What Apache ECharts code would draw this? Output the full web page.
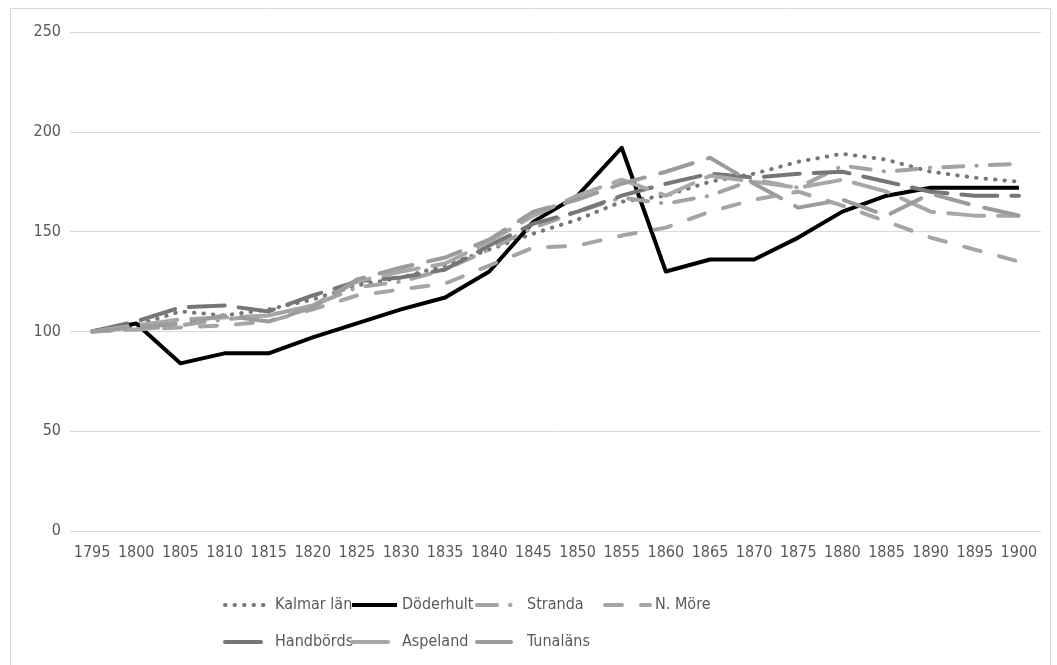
<!DOCTYPE html>
<html>
<head>
<meta charset="utf-8">
<script src="https://cdn.jsdelivr.net/npm/echarts@6/dist/echarts.min.js"></script>
<style>
html,body{margin:0;padding:0;background:#fff;}
#chart{width:1057px;height:665px;}
</style>
</head>
<body>
<div id="chart"></div>
<script>
const years = ['1795','1800','1805','1810','1815','1820','1825','1830','1835','1840','1845','1850','1855','1860','1865','1870','1875','1880','1885','1890','1895','1900'];
const yTicks = [0, 50, 100, 150, 200, 250];

const kalmarLan = [100,103,110,108,111,116,123,127,133,141,149,156,165,168,175,179,185,189,186,180,177,175];
const doderhult = [100,104,84,89,89,97,104,111,117,130,155,168,192,130,136,136,147,160,168,172,172,172];
const stranda   = [100,101,103,106,108,113,122,125,131,141,152,160,167,164,168,176,172,183,180,182,183,184];
const nMore     = [100,101,102,103,105,111,118,121,124,133,142,143,148,152,160,166,170,163,155,147,141,135];
const handbords = [100,105,112,113,110,118,125,127,131,143,154,160,168,174,179,177,179,180,175,170,168,168];
const aspeland  = [100,103,106,107,108,113,125,130,134,145,158,168,176,168,178,175,172,176,170,160,158,158];
const tunalans  = [100,102,104,108,105,112,126,132,137,146,160,166,174,180,187,174,162,166,158,169,163,158];

const FONT = "'Liberation Sans Narrow', 'DejaVu Sans Condensed', 'Liberation Sans', sans-serif";
const TXT = '#595959';

const seriesDefs = [
  {name:'Kalmar län', data:kalmarLan, color:'#767676', width:4, type:[0.5,9], cap:'round'},
  {name:'Döderhult', data:doderhult, color:'#000000', width:4, type:'solid', cap:'butt'},
  {name:'Stranda', data:stranda, color:'#a3a3a3', width:4, type:[20,13,0.5,13], cap:'round'},
  {name:'N. Möre', data:nMore, color:'#a5a5a5', width:4, type:[17,19], cap:'round'},
  {name:'Handbörds', data:handbords, color:'#767676', width:4, type:[36,14], cap:'round'},
  {name:'Aspeland', data:aspeland, color:'#a8a8a8', width:4, type:[36,14], cap:'round'},
  {name:'Tunaläns', data:tunalans, color:'#9c9c9c', width:4, type:[34,16], cap:'round'}
];

const legendPos = [
  {left:218, top:592}, {left:345, top:592}, {left:470, top:592}, {left:598, top:592},
  {left:218, top:629}, {left:345, top:629}, {left:470, top:629}
];

const chart = echarts.init(document.getElementById('chart'), null, {renderer:'canvas'});
chart.setOption({
  animation:false,
  backgroundColor:'#ffffff',
  graphic:[{type:'rect', shape:{x:10.5,y:8.5,width:1040,height:660}, style:{fill:'none', stroke:'#d9d9d9', lineWidth:1}, silent:true}],
  grid:{left:70, right:16, top:32, bottom:134, containLabel:false},
  xAxis:{
    type:'category', data:years, boundaryGap:true,
    axisLine:{lineStyle:{color:'#d9d9d9', width:1}},
    axisTick:{show:false},
    axisLabel:{color:TXT, fontFamily:FONT, fontSize:16, margin:14, interval:0}
  },
  yAxis:{
    type:'value', min:0, max:250, interval:50,
    axisLine:{show:false}, axisTick:{show:false},
    splitLine:{lineStyle:{color:'#d9d9d9', width:1}},
    axisLabel:{color:TXT, fontFamily:FONT, fontSize:16, margin:9,
      formatter:function(v){return yTicks.indexOf(v)>=0 ? String(v) : '';}}
  },
  legend: seriesDefs.map((s,i)=>({
    data:[s.name], left:legendPos[i].left, top:legendPos[i].top,
    itemWidth:45, itemHeight:14, itemGap:0,
    itemStyle:{opacity:0},
    lineStyle:{width:4, type:s.type, cap:s.cap, color:s.color},
    textStyle:{color:TXT, fontFamily:FONT, fontSize:16},
    selectedMode:false
  })),
  series: seriesDefs.map(s=>({
    name:s.name, type:'line', data:s.data, symbol:'none', smooth:false,
    lineStyle:{color:s.color, width:s.width, type:s.type, cap:s.cap, join:'round'},
    itemStyle:{color:s.color}
  }))
});
</script>
</body>
</html>
